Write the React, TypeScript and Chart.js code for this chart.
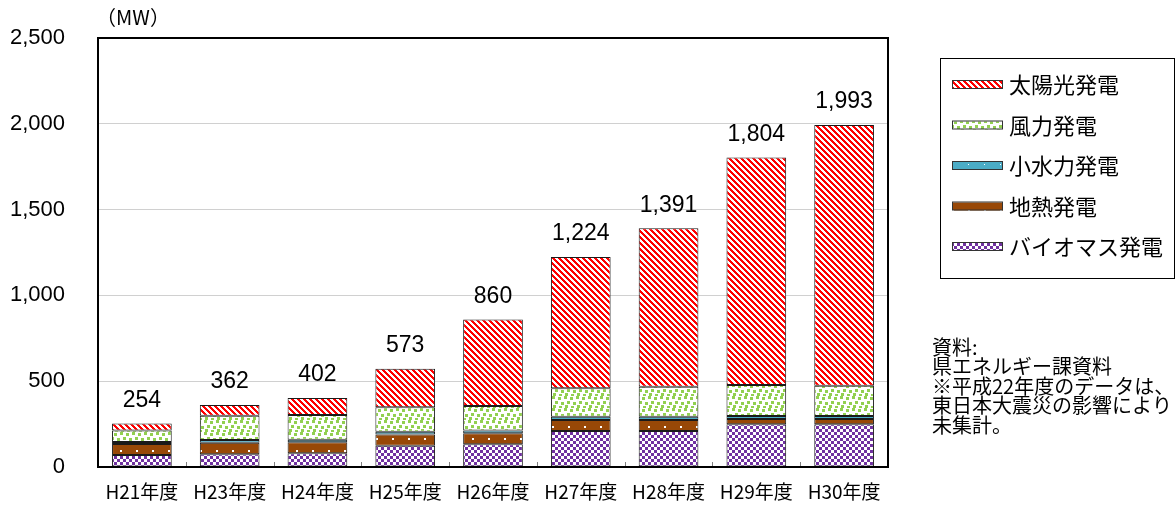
import React, { useEffect, useRef } from "react";
import { Chart, registerables } from "chart.js";
Chart.register(...registerables);

const categories = ["H21年度", "H23年度", "H24年度", "H25年度", "H26年度", "H27年度", "H28年度", "H29年度", "H30年度"];
const biomass = [70, 74, 80, 124, 132, 210, 210, 249, 249];
const geothermal = [64, 68, 64, 66, 64, 64, 64, 31, 31];
const smallHydro = [12, 15, 15, 16, 16, 19, 19, 17, 17];
const wind = [66, 142, 144, 142, 143, 166, 175, 181, 177];
const solar = [42, 63, 99, 225, 505, 765, 923, 1326, 1519];
const totals = [254, 362, 402, 573, 860, 1224, 1391, 1804, 1993];
const seriesNames = ["バイオマス発電", "地熱発電", "小水力発電", "風力発電", "太陽光発電"];
const yTicks = [0, 500, 1000, 1500, 2000, 2500];
const unitLabel = "（MW）";
const noteLines = ["資料:", "県エネルギー課資料", "※平成22年度のデータは、", "東日本大震災の影響により", "未集計。"];

const JP = '"Noto Sans CJK JP", "Noto Sans", sans-serif';
const NUM = '"Liberation Sans", Arial, sans-serif';

function makeTile(w: number, h: number, draw: (c: CanvasRenderingContext2D) => void) {
  const cv = document.createElement("canvas");
  cv.width = w;
  cv.height = h;
  const c = cv.getContext("2d")!;
  draw(c);
  const host = document.createElement("canvas").getContext("2d")!;
  return host.createPattern(cv, "repeat")!;
}

function makePatterns() {
  const solarP = makeTile(6, 6, (c) => {
    c.fillStyle = "#ffffff";
    c.fillRect(0, 0, 6, 6);
    c.fillStyle = "#ff0000";
    for (let y = 0; y < 6; y++)
      for (let x = 0; x < 6; x++) {
        if (((x - y + 60) % 6) < 3) c.fillRect(x, y, 1, 1);
      }
  });
  const windP = makeTile(12, 12, (c) => {
    c.fillStyle = "#ffffff";
    c.fillRect(0, 0, 12, 12);
    c.fillStyle = "#92d050";
    const pts = [[0, 0], [6, 1], [3, 5], [9, 6], [1, 9], [7, 10]];
    pts.forEach(([x, y]) => {
      c.fillRect(x, y, 3, 3);
    });
  });
  const hydroP = makeTile(16, 8, (c) => {
    c.fillStyle = "#4bacc6";
    c.fillRect(0, 0, 16, 8);
    c.fillStyle = "#ffffff";
    c.fillRect(8, 4, 1, 1);
  });
  const geoP = makeTile(16, 12, (c) => {
    c.fillStyle = "#984807";
    c.fillRect(0, 0, 16, 12);
    c.fillStyle = "#ffffff";
    c.fillRect(8, 6, 2, 2);
  });
  const bioP = makeTile(6, 6, (c) => {
    c.fillStyle = "#ffffff";
    c.fillRect(0, 0, 6, 6);
    c.fillStyle = "#7030a0";
    c.fillRect(0, 0, 3, 3);
    c.fillRect(3, 3, 3, 3);
  });
  return [bioP, geoP, hydroP, windP, solarP];
}

export default function App() {
  const ref = useRef<HTMLCanvasElement>(null);
  useEffect(() => {
    const patterns = makePatterns();
    const seriesData = [biomass, geothermal, smallHydro, wind, solar];

    const framePlugin = {
      id: "frame",
      afterDatasetsDraw(chart: any) {
        const { ctx, chartArea: a, scales } = chart;
        ctx.save();
        const n = categories.length;
        const w = (a.right - a.left) / n;
        ctx.strokeStyle = "#808080";
        ctx.lineWidth = 1;
        for (let i = 1; i < n; i++) {
          const x = Math.round(a.left + i * w) + 0.5;
          ctx.beginPath();
          ctx.moveTo(x, a.bottom);
          ctx.lineTo(x, a.bottom - 5);
          ctx.stroke();
        }
        ctx.strokeStyle = "#000000";
        ctx.lineWidth = 2;
        ctx.strokeRect(a.left, a.top, a.right - a.left, a.bottom - a.top);
        const meta = chart.getDatasetMeta(chart.data.datasets.length - 1);
        ctx.fillStyle = "#000000";
        ctx.font = `23px ${NUM}`;
        ctx.textAlign = "center";
        ctx.textBaseline = "middle";
        totals.forEach((t, i) => {
          const x = meta.data[i].x;
          const y = scales.y.getPixelForValue(t) - 23;
          ctx.fillText(t.toLocaleString("en-US"), x, y);
        });
        ctx.font = `20px ${JP}`;
        ctx.textAlign = "center";
        ctx.fillText(unitLabel, 133, 17);
        // legend
        ctx.strokeStyle = "#000000";
        ctx.lineWidth = 1;
        ctx.strokeRect(940.5, 58.5, 234, 220);
        ctx.font = `22px ${JP}`;
        ctx.textAlign = "left";
        for (let k = 0; k < 5; k++) {
          const idx = 4 - k;
          const cy = 85 + k * 40.5;
          ctx.fillStyle = patterns[idx];
          ctx.fillRect(952, cy - 4, 51, 8);
          ctx.strokeStyle = "#333333";
          ctx.strokeRect(952.5, cy - 4.5, 50, 8);
          ctx.fillStyle = "#000000";
          ctx.fillText(seriesNames[idx], 1009, cy);
        }
        // note
        ctx.font = `20px ${JP}`;
        noteLines.forEach((ln, i) => {
          ctx.fillText(ln, 932, 347 + i * 19.5);
        });
        ctx.restore();
      },
    };

    const chart = new Chart(ref.current!, {
      type: "bar",
      data: {
        labels: categories,
        datasets: seriesData.map((d, i) => ({
          label: seriesNames[i],
          data: d,
          backgroundColor: patterns[i],
          borderColor: "#1a1a1a",
          borderWidth: 1,
          borderSkipped: false,
          categoryPercentage: 1,
          barPercentage: 0.68,
        })),
      },
      options: {
        responsive: false,
        devicePixelRatio: 1,
        animation: false,
        layout: { autoPadding: false, padding: { left: 0, right: 288, top: 38, bottom: 0 } },
        plugins: { legend: { display: false }, tooltip: { enabled: false }, title: { display: false } },
        scales: {
          x: {
            stacked: true,
            grid: { display: false, drawTicks: false },
            border: { display: false },
            ticks: { color: "#000", font: { family: JP, size: 19 }, padding: 13, maxRotation: 0, autoSkip: false },
            afterFit: (s: any) => {
              s.height = 39;
              s.paddingLeft = 0;
              s.paddingRight = 0;
            },
          },
          y: {
            stacked: true,
            min: 0,
            max: 2500,
            afterBuildTicks: (s: any) => {
              s.ticks = yTicks.map((v) => ({ value: v }));
            },
            grid: { color: "#d0d0d0", lineWidth: 1, drawTicks: false },
            border: { display: false },
            ticks: {
              color: "#000",
              font: { family: NUM, size: 22 },
              padding: 33,
              callback: (v: any) => Number(v).toLocaleString("en-US"),
            },
            afterFit: (s: any) => {
              s.width = 98;
              s.paddingTop = 0;
              s.paddingBottom = 0;
            },
          },
        },
      },
      plugins: [framePlugin],
    });
    return () => chart.destroy();
  }, []);
  return (
    <div style={{ position: "fixed", left: 0, top: 0, width: 1176, height: 506, background: "#fff" }}>
      <canvas ref={ref} width={1176} height={506} style={{ display: "block" }} />
    </div>
  );
}
